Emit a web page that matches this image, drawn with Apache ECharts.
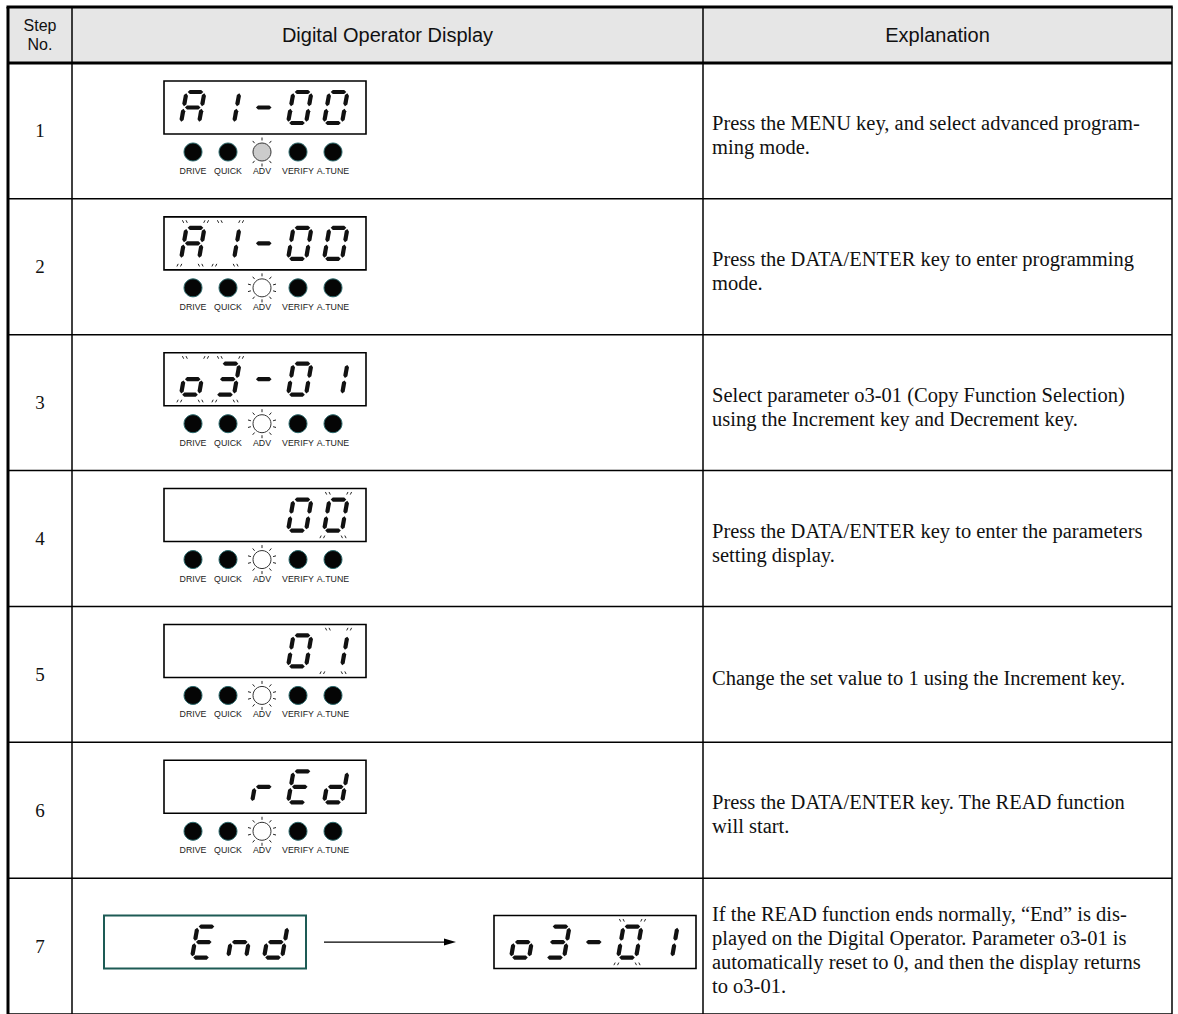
<!DOCTYPE html>
<html><head><meta charset="utf-8">
<script src="https://cdn.jsdelivr.net/npm/echarts@6/dist/echarts.min.js"></script>
<style>html,body{margin:0;padding:0;background:#fff}#c{width:1178px;height:1014px}</style>
</head><body><div id="c"></div>
<script>
// ---------- data ----------
const headerStep = 'Step\nNo.';
const headerDisplay = 'Digital Operator Display';
const headerExplain = 'Explanation';
const steps = ['1', '2', '3', '4', '5', '6', '7'];
// characters shown on the 5-digit operator display (space = blank digit)
const displayMain = ['A1-00', 'A1-00', 'o3-01', '   00', '   01', '  rEd', '  End'];
const displaySecond = [null, null, null, null, null, null, 'o3-01'];
// indices of blinking digits
const blinkMain = [[], [0, 1], [0, 1], [4], [4], [], []];
const blinkSecond = [[], [], [], [], [], [], [3]];
const ledLabels = ['DRIVE', 'QUICK', 'ADV', 'VERIFY', 'A.TUNE'];
// state of the ADV lamp per step: 'dim' lit grey, 'blink' flashing, null = no lamps shown
const advState = ['dim', 'blink', 'blink', 'blink', 'blink', 'blink', null];
const explanations = [
  'Press the MENU key, and select advanced program-\nming mode.',
  'Press the DATA/ENTER key to enter programming\nmode.',
  'Select parameter o3-01 (Copy Function Selection)\nusing the Increment key and Decrement key.',
  'Press the DATA/ENTER key to enter the parameters\nsetting display.',
  'Change the set value to 1 using the Increment key.',
  'Press the DATA/ENTER key. The READ function\nwill start.',
  'If the READ function ends normally, \u201cEnd\u201d is dis-\nplayed on the Digital Operator. Parameter o3-01 is\nautomatically reset to 0, and then the display returns\nto o3-01.'
];

// ---------- style / layout constants ----------
const COL = [8, 72, 703, 1172];
const HEADER_H = 56;
const SANS = '"Liberation Sans", Arial, sans-serif';
const SERIF = '"Liberation Serif", "Times New Roman", serif';
const SEG = {A: 'abcefg', '1': 'bc', '-': 'g', '0': 'abcdef', o: 'cdeg', '3': 'abcdg', r: 'eg', E: 'adefg', d: 'bcdeg', n: 'ceg', ' ': ''};
const DIG_W = 18, DIG_H = 31, SLANT = 5.5, SEG_T = 4.2, GAP = 1.2;
const CELL_OFF = [17, 52, 88, 124, 160];
const BOX_W = 202, BOX_H = 53;
const LED_OFF = [29, 64, 98, 134, 169];

function segPoly(x1, y1, x2, y2, t) {
  const dx = x2 - x1, dy = y2 - y1, L = Math.hypot(dx, dy);
  const ux = dx / L, uy = dy / L, nx = -uy, ny = ux, h = t / 2;
  return [[x1, y1], [x1 + ux * h + nx * h, y1 + uy * h + ny * h], [x2 - ux * h + nx * h, y2 - uy * h + ny * h],
    [x2, y2], [x2 - ux * h - nx * h, y2 - uy * h - ny * h], [x1 + ux * h - nx * h, y1 + uy * h - ny * h]];
}
function digit(ch, cx, cy, out) {
  const w = DIG_W, h = DIG_H, g = GAP;
  const P = (x, y) => [cx + x + (h - y) / h * SLANT, cy + y];
  const defs = {
    a: [[g, 0], [w - g, 0]], b: [[w, g], [w, h / 2 - g]], c: [[w, h / 2 + g], [w, h - g]],
    d: [[g, h], [w - g, h]], e: [[0, h / 2 + g], [0, h - g]], f: [[0, g], [0, h / 2 - g]], g: [[g, h / 2], [w - g, h / 2]]
  };
  for (const s of (SEG[ch] || '')) {
    const p = P(...defs[s][0]), q = P(...defs[s][1]);
    out.push({type: 'polygon', shape: {points: segPoly(p[0], p[1], q[0], q[1], SEG_T)}, style: {fill: '#111'}});
  }
}
function blinkMarks(cx, cy, out) {
  const w = DIG_W, h = DIG_H;
  const corners = [[cx + SLANT, cy, -1, -1], [cx + SLANT + w, cy, 1, -1], [cx, cy + h, -1, 1], [cx + w, cy + h, 1, 1]];
  for (const [x, y, sx, sy] of corners) {
    for (const k of [-1.8, 1.8]) {
      const px = x + sx * 1 + k, py = y + sy * 5;
      out.push({type: 'line', shape: {x1: px, y1: py, x2: px + sx * 1.3, y2: py + sy * 2.6}, style: {stroke: '#222', lineWidth: 1}});
    }
  }
}
function display(text, blink, bx, by, border, out) {
  out.push({type: 'rect', shape: {x: bx, y: by, width: BOX_W, height: BOX_H}, style: {fill: '#fff', stroke: border, lineWidth: border === '#000' ? 1.6 : 2}});
  for (let i = 0; i < 5; i++) {
    const cx = bx + CELL_OFF[i], cy = by + 11;
    digit(text[i], cx, cy, out);
    if (blink.includes(i)) blinkMarks(cx, cy, out);
  }
}
function leds(bx, y, state, out) {
  const dim = state === 'dim';
  for (let i = 0; i < 5; i++) {
    const x = bx + LED_OFF[i], r = 9;
    if (i === 2) {
      out.push({type: 'circle', shape: {cx: x, cy: y, r: r}, style: {fill: dim ? '#cccccc' : '#fff', stroke: '#333', lineWidth: 1}});
      const angles = dim ? [-130, -90, -50, 50, 90, 130] : [-130, -90, -50, -15, 15, 50, 90, 130, 165, 195];
      for (const a of angles) {
        const t = a * Math.PI / 180;
        out.push({type: 'line', shape: {x1: x + Math.cos(t) * (r + 2.5), y1: y + Math.sin(t) * (r + 2.5), x2: x + Math.cos(t) * (r + 5.5), y2: y + Math.sin(t) * (r + 5.5)}, style: {stroke: '#222', lineWidth: 1}});
      }
    } else {
      out.push({type: 'circle', shape: {cx: x, cy: y, r: r}, style: {fill: '#050505', stroke: '#2c6b6e', lineWidth: 1}});
    }
    out.push({type: 'text', style: {text: ledLabels[i], x: x, y: y + 19, fill: '#222', font: '8.8px ' + SANS, align: 'center', verticalAlign: 'middle', textAlign: 'center', textVerticalAlign: 'middle'}});
  }
}

function renderRow(params, api) {
  const idx = api.value(1);
  const c = api.coord([0, idx]);
  const bandH = api.size([0, 1])[1];
  const top = c[1] - bandH / 2, bot = c[1] + bandH / 2;
  const X = v => api.coord([v, idx])[0];
  const out = [];
  // step number
  out.push({type: 'text', style: {text: steps[idx], x: (X(COL[0]) + X(COL[1])) / 2, y: c[1], fill: '#111', font: '19px ' + SERIF, align: 'center', verticalAlign: 'middle', textAlign: 'center', textVerticalAlign: 'middle'}});
  // display
  if (displaySecond[idx] === null) {
    const bx = X(164), by = top + 18;
    display(displayMain[idx], blinkMain[idx], bx, by, '#000', out);
    leds(bx, by + 71, advState[idx], out);
  } else {
    const by = c[1] - BOX_H / 2 - 4;
    const b1 = X(104), b2 = X(494);
    display(displayMain[idx], blinkMain[idx], b1, by, '#1d5b55', out);
    display(displaySecond[idx], blinkSecond[idx], b2, by, '#000', out);
    const ay = by + BOX_H / 2;
    out.push({type: 'line', shape: {x1: b1 + BOX_W + 18, y1: ay, x2: b2 - 48, y2: ay}, style: {stroke: '#000', lineWidth: 1.3}});
    out.push({type: 'polygon', shape: {points: [[b2 - 38, ay], [b2 - 50, ay - 3.5], [b2 - 50, ay + 3.5]]}, style: {fill: '#000'}});
  }
  // explanation
  out.push({type: 'text', style: {text: explanations[idx], x: X(COL[2]) + 9, y: c[1] + 4, fill: '#111', font: '20.5px ' + SERIF, lineHeight: 24, align: 'left', verticalAlign: 'middle', textAlign: 'left', textVerticalAlign: 'middle'}});
  // row bottom rule
  out.push({type: 'line', shape: {x1: X(COL[0]), y1: bot, x2: X(COL[3]), y2: bot}, style: {stroke: '#000', lineWidth: 1.5}});
  return {type: 'group', children: out};
}

function renderFrame(params, api) {
  const c = api.coord([0, 0]);
  const bandH = api.size([0, 1])[1];
  const hb = c[1] - bandH / 2, ht = hb - HEADER_H;
  const yEnd = api.coord([0, steps.length - 1])[1] + bandH / 2;
  const X = v => api.coord([v, 0])[0];
  const out = [];
  out.push({type: 'rect', shape: {x: X(COL[0]), y: ht, width: X(COL[3]) - X(COL[0]), height: HEADER_H}, style: {fill: '#e6e6e6'}});
  const hm = (ht + hb) / 2;
  out.push({type: 'text', style: {text: headerStep, x: (X(COL[0]) + X(COL[1])) / 2, y: hm, fill: '#111', font: '16px ' + SANS, lineHeight: 19, align: 'center', verticalAlign: 'middle', textAlign: 'center', textVerticalAlign: 'middle'}});
  out.push({type: 'text', style: {text: headerDisplay, x: (X(COL[1]) + X(COL[2])) / 2, y: hm, fill: '#111', font: '20px ' + SANS, align: 'center', verticalAlign: 'middle', textAlign: 'center', textVerticalAlign: 'middle'}});
  out.push({type: 'text', style: {text: headerExplain, x: (X(COL[2]) + X(COL[3])) / 2, y: hm, fill: '#111', font: '20px ' + SANS, align: 'center', verticalAlign: 'middle', textAlign: 'center', textVerticalAlign: 'middle'}});
  for (const [i, v] of COL.entries()) {
    out.push({type: 'line', shape: {x1: X(v), y1: ht, x2: X(v), y2: yEnd}, style: {stroke: '#000', lineWidth: i === 0 ? 3 : 1.5}});
  }
  out.push({type: 'line', shape: {x1: X(COL[0]) - 1.5, y1: ht, x2: X(COL[3]) + 0.75, y2: ht}, style: {stroke: '#000', lineWidth: 3}});
  out.push({type: 'line', shape: {x1: X(COL[0]), y1: hb, x2: X(COL[3]), y2: hb}, style: {stroke: '#000', lineWidth: 3}});
  return {type: 'group', children: out};
}

const chart = echarts.init(document.getElementById('c'), null, {renderer: 'svg'});
chart.setOption({
  animation: false,
  grid: {left: 0, right: 0, top: 63, height: 954},
  xAxis: {type: 'value', min: 0, max: 1178, show: false},
  yAxis: {type: 'category', data: steps, inverse: true, show: false},
  series: [
    {type: 'custom', clip: false, silent: true, data: [[0, 0]], renderItem: renderFrame, z: 1},
    {type: 'custom', clip: false, silent: true, data: steps.map((s, i) => [0, i]), renderItem: renderRow, z: 2}
  ]
});
</script></body></html>
